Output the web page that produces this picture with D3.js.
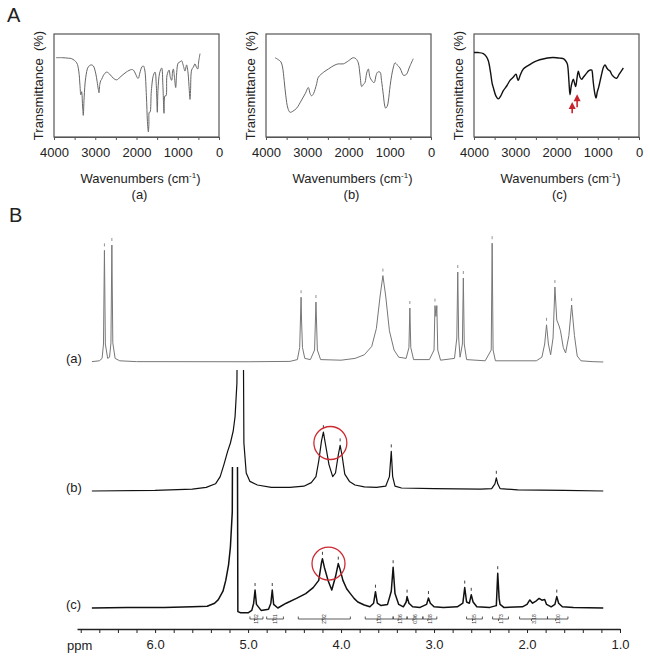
<!DOCTYPE html>
<html>
<head>
<meta charset="utf-8">
<script src="https://cdn.jsdelivr.net/npm/d3@7"></script>
<style>
  body { margin: 0; background: #fff; }
  svg { display: block; font-family: "Liberation Sans", Arial, sans-serif; }
</style>
</head>
<body>
<svg id="fig" width="650" height="662"></svg>
<script>
// ---- FTIR spectra: [wavenumber cm-1, transmittance %]
const irA = [[3950,77],[3800,77],[3650,76.5],[3570,76],[3450,72],[3400,64],[3370,50],[3350,41],[3330,44],[3305,28],[3290,21],[3270,38],[3230,58],[3170,68],[3100,70],[3047,69],[2990,62],[2955,54],[2925,46],[2909,43],[2890,51],[2865,55],[2844,56],[2800,60],[2723,63],[2650,61],[2560,57],[2480,55.5],[2400,58],[2250,63],[2120,65.5],[2077,65],[2020,61],[1980,57.5],[1956,57],[1920,62],[1870,68],[1834,69],[1800,65],[1760,40],[1735,15],[1713,5],[1700,12],[1690,24],[1673,24],[1640,45],[1590,60],[1550,63],[1520,50],[1495,24],[1480,45],[1440,62],[1390,67],[1360,50],[1333,23],[1310,40],[1285,40],[1260,60],[1210,65],[1180,58],[1147,55],[1125,64],[1107,66],[1080,58],[1050,48],[1030,60],[1005,70],[986,72],[940,73],[907,74],[870,70],[824,64],[800,68],[785,70],[750,62],[720,45],[703,36.5],[690,45],[663,65],[620,68],[582,71],[550,68],[517,66],[490,74],[460,81]];
const irB = [[3780,77],[3700,75],[3640,73],[3600,68],[3560,55],[3520,40],[3470,28],[3418,24],[3350,25],[3256,28],[3150,35],[3050,42],[2974,48],[2930,42],[2893,40],[2850,42],[2812,46],[2770,52],[2731,58],[2600,63],[2489,66],[2350,69.5],[2247,71],[2126,71],[2000,74],[1884,77],[1820,76],[1763,72],[1720,60],[1680,49],[1640,51],[1600,53],[1560,62],[1520,66],[1480,58],[1438,55],[1400,53],[1374,53],[1330,60],[1293,63],[1236,63],[1200,55],[1156,41],[1120,30],[1099,28],[1060,30],[1034,35],[990,50],[953,60],[910,68],[873,72],[820,70],[752,67],[700,62],[672,60],[630,60],[591,61],[520,68],[430,76]];
const irC = [[4000,82],[3900,82],[3774,81],[3700,78],[3653,74],[3600,63],[3560,52],[3532,48],[3470,40],[3410,37],[3350,40],[3289,45],[3200,50],[3127,55],[3050,58],[2982,61],[2950,57],[2925,55],[2880,60],[2804,66],[2700,69],[2600,71.5],[2480,74],[2300,76],[2158,77],[2000,77],[1900,76.5],[1835,76],[1780,74],[1738,71],[1700,55],[1673,41],[1640,50],[1592,56],[1560,52],[1535,49],[1500,58],[1471,64],[1430,58],[1390,56],[1350,58],[1310,60],[1270,62],[1229,64],[1180,65],[1147,65],[1120,58],[1108,53],[1070,42],[1042,38],[1010,44],[980,48],[945,54],[900,62],[860,68],[824,70],[780,67],[740,65],[703,64],[650,60],[600,58],[542,57],[480,61],[430,64],[380,67]];
const irTicks = [4000, 3500, 3000, 2500, 2000, 1500, 1000, 500, 0];
const irNames = ["(a)", "(b)", "(c)"];
// red arrows in (c): [wavenumber, tail T, head T]
const irArrows = [[1620, 23, 34], [1500, 29, 41.5]];

// ---- 1H NMR spectra: [ppm, intensity]
const nmrA = [[6.68,0.3],[6.60,1],[6.57,3],[6.555,15],[6.545,93],[6.535,15],[6.51,3],[6.49,4],[6.475,16],[6.465,97.5],[6.455,16],[6.43,3],[6.38,1],[6.2,0.3],[5.0,0.2],[4.55,0.5],[4.47,2],[4.445,12],[4.435,40],[4.43,54],[4.425,35],[4.415,12],[4.39,3],[4.33,2],[4.285,10],[4.27,50],[4.255,10],[4.22,2],[4.0,1.5],[3.85,3],[3.75,6],[3.67,13],[3.62,28],[3.58,55],[3.55,72],[3.52,55],[3.48,26],[3.43,10],[3.38,4],[3.3,3],[3.27,12],[3.26,45],[3.25,12],[3.22,2],[3.05,2],[3.0,10],[2.99,47],[2.98,38],[2.97,47],[2.96,10],[2.93,1.5],[2.78,3],[2.755,20],[2.745,75],[2.735,20],[2.72,4],[2.695,15],[2.685,70],[2.675,15],[2.65,2],[2.45,1],[2.385,10],[2.375,99],[2.365,10],[2.34,1],[2.0,1],[1.90,1],[1.84,4],[1.81,15],[1.79,31],[1.77,15],[1.746,6],[1.72,20],[1.70,62.5],[1.68,35],[1.655,30],[1.64,26],[1.61,12],[1.585,7.5],[1.55,22],[1.52,47.5],[1.49,22],[1.46,5],[1.42,1],[1.3,0.3],[1.18,0]];
const nmrB = [[6.68,0],[6.0,0.5],[5.6,1.5],[5.45,3],[5.35,6],[5.30,12],[5.26,22],[5.22,33],[5.19,40],[5.16,50],[5.14,62],[5.12,90],[5.105,260],[5.06,260],[5.045,40],[5.02,15],[4.98,8],[4.9,5],[4.75,3],[4.55,3],[4.40,4],[4.32,7],[4.27,12],[4.24,25],[4.21,42],[4.19,49],[4.17,40],[4.13,22],[4.09,12],[4.06,15],[4.03,30],[4.01,38],[3.99,30],[3.96,14],[3.91,8],[3.85,5],[3.75,3.5],[3.62,3],[3.52,4],[3.48,12],[3.46,33],[3.445,12],[3.42,4],[3.35,2.5],[3.0,2],[2.5,1.5],[2.38,2],[2.345,6],[2.33,11],[2.315,6],[2.29,2],[2.1,1],[1.6,0.5],[1.18,0]];
const nmrC = [[6.68,0],[6.3,0.5],[5.9,0.5],[5.6,1],[5.44,1.5],[5.36,4],[5.32,7],[5.27,14],[5.24,23],[5.21,36],[5.19,51],[5.17,80],[5.16,300],[5.12,300],[5.11,-3],[5.08,-4],[5.0,-4],[4.96,-2],[4.94,4],[4.925,15],[4.91,3],[4.86,-2],[4.78,-1],[4.755,4],[4.74,15],[4.725,3],[4.68,0],[4.59,4],[4.48,8],[4.38,12],[4.30,17],[4.24,23],[4.21,38],[4.20,41],[4.18,34],[4.14,23],[4.10,15],[4.06,26],[4.03,37],[4.01,32],[3.98,23],[3.94,16],[3.90,12],[3.86,8],[3.82,5],[3.75,2.5],[3.69,1],[3.65,4],[3.63,13.6],[3.61,4],[3.57,2],[3.50,3],[3.46,14],[3.44,34],[3.42,12],[3.38,3],[3.33,1],[3.30,5],[3.29,9.5],[3.27,4],[3.23,1],[3.15,0.5],[3.08,3],[3.06,8.3],[3.04,4],[3.0,1],[2.9,0.5],[2.75,1],[2.69,4],[2.67,17],[2.65,5],[2.62,4],[2.60,11],[2.58,5],[2.54,1],[2.40,0.5],[2.33,2],[2.315,29],[2.30,8],[2.29,3],[2.25,0.5],[2.05,1],[2.00,3],[1.97,6.7],[1.94,4],[1.90,6],[1.87,8],[1.84,6.5],[1.81,7],[1.79,3],[1.74,1],[1.70,3],[1.68,9.5],[1.66,4],[1.62,1],[1.5,0.5],[1.18,0]];
const peaksA = [6.545, 6.465, 4.43, 4.27, 3.55, 3.26, 2.99, 2.745, 2.685, 2.375, 1.79, 1.70, 1.52];
const peaksB = [4.19, 4.01, 3.46, 2.33];
const peaksC = [4.925, 4.74, 4.20, 4.03, 3.63, 3.44, 3.29, 3.06, 2.67, 2.60, 2.315, 1.68];
const ppmLabels = [6.0, 5.0, 4.0, 3.0, 2.0, 1.0];
const nmrNames = ["(a)", "(b)", "(c)"];
// red circles: [ppm, intensity] centre on (b) and (c)
const circleB = [4.115, 40];
const circleC = [4.135, 37];
// integration ranges under (c): [from ppm, to ppm, value]
const integrals = [[4.98,4.84,"1.02"],[4.80,4.62,"1.01"],[4.46,3.90,"2.92"],[3.74,3.44,"1.00"],[3.44,3.29,"1.06"],[3.29,3.12,"0.96"],[3.12,2.97,"1.08"],[2.65,2.48,"1.05"],[2.37,2.20,"1.73"],[2.08,1.78,"3.18"],[1.78,1.56,"1.00"]];

const svg = d3.select("#fig");
const ink = "#222";

// Section letters
svg.append("text").attr("x", 7).attr("y", 22).attr("font-size", 20).attr("fill", ink).text("A");
svg.append("text").attr("x", 9).attr("y", 222).attr("font-size", 20).attr("fill", ink).text("B");

// ---------- Part A: three FTIR panels
const panelLeft = [54, 266, 474];
const panelW = 165, boxTop = 34, boxBottom = 137;
const irSets = [irA, irB, irC];
const irColor = ["#666", "#666", "#111"];

panelLeft.forEach((left, i) => {
  const x = d3.scaleLinear().domain([4000, 0]).range([left, left + panelW]);
  const y = d3.scaleLinear().domain([0, 100]).range([boxBottom, boxTop]);
  const g = svg.append("g");

  g.append("rect")
    .attr("x", left).attr("y", boxTop)
    .attr("width", panelW).attr("height", boxBottom - boxTop)
    .attr("fill", "none").attr("stroke", "#555").attr("stroke-width", 1.2);

  const axis = d3.axisBottom(x).tickValues(irTicks).tickSize(3).tickPadding(8)
    .tickSizeOuter(0)
    .tickFormat(d => d % 1000 === 0 ? d : "");
  const ax = g.append("g").attr("transform", `translate(0,${boxBottom})`).call(axis);
  ax.select(".domain").attr("stroke", "#555").attr("stroke-width", 1.2);
  ax.selectAll(".tick line").attr("stroke", "#555");
  ax.selectAll(".tick text").attr("font-size", 13).attr("fill", ink)
    .attr("font-family", "Liberation Sans, Arial, sans-serif");

  g.append("path")
    .datum(irSets[i])
    .attr("fill", "none")
    .attr("stroke", irColor[i])
    .attr("stroke-width", i === 2 ? 1.4 : 1)
    .attr("stroke-linejoin", "round")
    .attr("d", d3.line().x(d => x(d[0])).y(d => y(d[1])).curve(d3.curveCatmullRom));

  const cx = left + panelW / 2;
  g.append("text")
    .attr("transform", `translate(${left - 11},${(boxTop + boxBottom) / 2}) rotate(-90)`)
    .attr("text-anchor", "middle").attr("font-size", 13).attr("fill", ink)
    .attr("xml:space", "preserve")
    .text("Transmittance  (%)");

  const wl = g.append("text").attr("x", cx + 4).attr("y", 183)
    .attr("text-anchor", "middle").attr("font-size", 13).attr("fill", ink);
  wl.append("tspan").text("Wavenumbers (cm");
  wl.append("tspan").attr("font-size", 8).attr("dy", -5).text("-1");
  wl.append("tspan").attr("dy", 5).text(")");

  g.append("text").attr("x", cx + 3).attr("y", 199)
    .attr("text-anchor", "middle").attr("font-size", 13).attr("fill", ink)
    .text(irNames[i]);

  if (i === 2) {
    irArrows.forEach(a => {
      const ax0 = x(a[0]), yt = y(a[1]), yh = y(a[2]);
      g.append("line").attr("x1", ax0).attr("x2", ax0).attr("y1", yt).attr("y2", yh + 5)
        .attr("stroke", "#c8242b").attr("stroke-width", 1.6);
      g.append("path")
        .attr("d", `M${ax0},${yh} L${ax0 - 3.5},${yh + 7} L${ax0 + 3.5},${yh + 7} Z`)
        .attr("fill", "#c8242b");
    });
  }
});

// ---------- Part B: stacked NMR spectra
const ppm = d3.scaleLinear().domain([6.84, 1.0]).range([77, 620]);
const bases = [362, 491, 608];
const clipTops = [200, 370, 467];
const nmrSets = [nmrA, nmrB, nmrC];
const peakSets = [peaksA, peaksB, peaksC];
const nmrColor = ["#777", "#111", "#111"];
const nmrWidth = [1, 1.2, 1.5];

const defs = svg.append("defs");

nmrSets.forEach((data, i) => {
  const y = d3.scaleLinear().domain([0, 100]).range([bases[i], bases[i] - 120]);
  defs.append("clipPath").attr("id", "clip" + i)
    .append("rect").attr("x", 60).attr("y", clipTops[i]).attr("width", 580).attr("height", 662 - clipTops[i]);

  svg.append("path")
    .datum(data)
    .attr("clip-path", `url(#clip${i})`)
    .attr("fill", "none")
    .attr("stroke", nmrColor[i])
    .attr("stroke-width", nmrWidth[i])
    .attr("stroke-linejoin", "round")
    .attr("d", d3.line().x(d => ppm(d[0])).y(d => y(d[1])));

  // small peak-pick marks above the peaks
  peakSets[i].forEach(p => {
    const top = d3.least(data, d => Math.abs(d[0] - p));
    const px = ppm(top[0]), py = y(top[1]);
    svg.append("line").attr("x1", px).attr("x2", px).attr("y1", py - 7).attr("y2", py - 4)
      .attr("stroke", nmrColor[i]).attr("stroke-width", 0.8);
  });

  svg.append("text").attr("x", 66).attr("y", bases[i] + 1)
    .attr("font-size", 13).attr("fill", ink).text(nmrNames[i]);

  if (i > 0) {
    const c = i === 1 ? circleB : circleC;
    svg.append("circle").attr("cx", ppm(c[0])).attr("cy", y(c[1])).attr("r", 16.5)
      .attr("fill", "none").attr("stroke", "#cc2a30").attr("stroke-width", 1.3);
  }
});

// integration brackets under (c)
const intY = 619;
const ig = svg.append("g").attr("stroke", "#333").attr("stroke-width", 0.8).attr("fill", "none");
integrals.forEach(r => {
  const x1 = ppm(r[0]), x2 = ppm(r[1]);
  ig.append("path").attr("d", `M${x1},${intY - 2.5} V${intY} H${x2} V${intY - 2.5}`);
  ig.append("path").attr("d", `M${(x1 + x2) / 2 - 2},${intY} v2`);
  svg.append("text")
    .attr("transform", `translate(${(x1 + x2) / 2 + 2},${intY}) rotate(-90)`)
    .attr("text-anchor", "middle").attr("font-size", 5).attr("fill", "#333")
    .text(r[2]);
});

// ppm axis
const ppmAxis = d3.axisBottom(ppm)
  .tickValues(d3.range(10, 69, 2).map(v => v / 10))
  .tickSize(4).tickPadding(7).tickSizeOuter(0)
  .tickFormat(d => ppmLabels.includes(d) ? d3.format(".1f")(d) : "");
const pa = svg.append("g").attr("transform", "translate(0,629)").call(ppmAxis);
pa.select(".domain").attr("stroke", "#222").attr("stroke-width", 1.4);
pa.selectAll(".tick line").attr("stroke", "#222");
pa.selectAll(".tick text").attr("font-size", 13).attr("fill", ink)
  .attr("font-family", "Liberation Sans, Arial, sans-serif");
svg.append("text").attr("x", 67).attr("y", 650).attr("font-size", 13).attr("fill", ink).text("ppm");
</script>
</body>
</html>
